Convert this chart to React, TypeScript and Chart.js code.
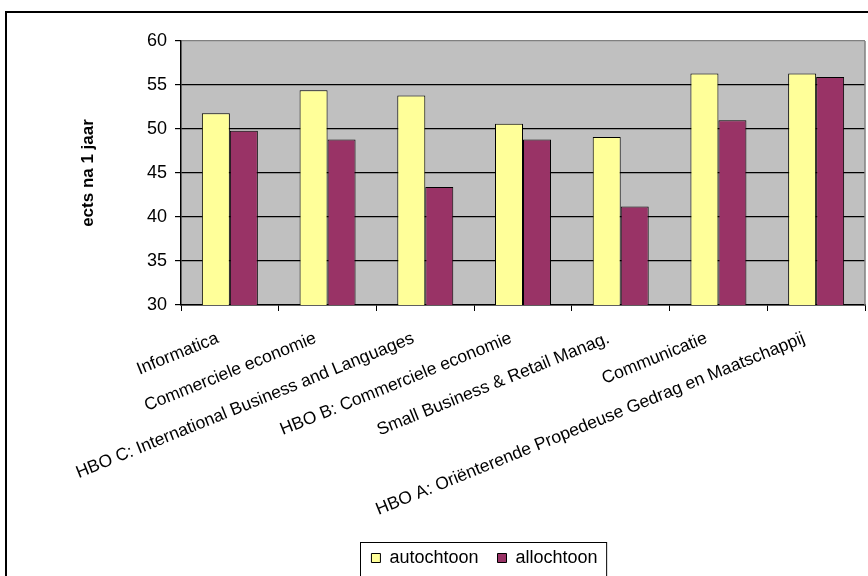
import { useEffect, useRef } from 'react';
import { Chart, registerables } from 'chart.js';

Chart.register(...registerables);

const categories = [
  'Informatica',
  'Commerciele economie',
  'HBO C: International Business and Languages',
  'HBO B: Commerciele economie',
  'Small Business & Retail Manag.',
  'Communicatie',
  'HBO A: Oriënterende Propedeuse Gedrag en Maatschappij',
];
const autochtoon = [51.8, 54.4, 53.8, 50.6, 49.1, 56.3, 56.3];
const allochtoon = [49.8, 48.8, 43.4, 48.8, 41.2, 51.0, 55.9];
const yMin = 30;
const yMax = 60;
const yStep = 5;

const FONT = "'Liberation Sans', Arial, sans-serif";

// grey plot area + grey right edge, like the old Excel look
const plotArea = {
  id: 'plotArea',
  beforeDraw(chart: any) {
    const { ctx, chartArea: a } = chart;
    ctx.save();
    ctx.fillStyle = '#C0C0C0';
    ctx.fillRect(a.left, a.top, a.right - a.left, a.bottom - a.top);
    ctx.restore();
  },
  beforeDatasetsDraw(chart: any) {
    const { ctx, chartArea: a } = chart;
    ctx.save();
    ctx.strokeStyle = '#808080';
    ctx.lineWidth = 1.5;
    ctx.beginPath();
    ctx.moveTo(a.right, a.top);
    ctx.lineTo(a.right, a.bottom);
    ctx.stroke();
    ctx.restore();
  },
};

// legend sits a bit right of centre and has a frame round it
const legendBox = {
  id: 'legendBox',
  afterLayout(chart: any) {
    chart.legend.left += 15;
    chart.legend.right += 15;
  },
  afterDraw(chart: any) {
    const hb = chart.legend?.legendHitBoxes;
    if (!hb || !hb.length) return;
    const { ctx } = chart;
    const last = hb[hb.length - 1];
    const left = hb[0].left - 11;
    const right = last.left + last.width + 9;
    const top = hb[0].top - 7;
    ctx.save();
    ctx.strokeStyle = '#000';
    ctx.lineWidth = 1;
    ctx.strokeRect(Math.round(left) + 0.5, Math.round(top) + 0.5, right - left, 60);
    ctx.restore();
  },
};

const App = () => {
  const canvasRef = useRef<HTMLCanvasElement | null>(null);

  useEffect(() => {
    if (!canvasRef.current) return;
    const chart = new Chart(canvasRef.current, {
      type: 'bar',
      data: {
        labels: categories,
        datasets: [
          {
            label: 'autochtoon',
            data: autochtoon,
            backgroundColor: '#FFFF99',
            borderColor: '#000',
            borderWidth: 1,
          },
          {
            label: 'allochtoon',
            data: allochtoon,
            backgroundColor: '#993366',
            borderColor: '#000',
            borderWidth: 1,
          },
        ],
      },
      options: {
        responsive: false,
        animation: false,
        layout: { padding: { left: 74, right: 3, top: 41, bottom: 0 } },
        datasets: {
          bar: { categoryPercentage: 0.573, barPercentage: 1 },
        },
        scales: {
          x: {
            afterFit: (scale: any) => {
              scale.height = 225;
            },
            grid: {
              offset: true,
              drawOnChartArea: false,
              drawTicks: true,
              tickLength: 6,
              color: '#000',
              lineWidth: 1,
            },
            border: { color: '#000', width: 1.5 },
            ticks: {
              autoSkip: false,
              minRotation: 22,
              maxRotation: 22,
              padding: 17,
              labelOffset: -12,
              color: '#000',
              font: { family: FONT, size: 17.5 },
            },
          },
          y: {
            min: yMin,
            max: yMax,
            afterFit: (scale: any) => {
              scale.width = 107;
            },
            grid: {
              color: (c: any) => (c.tick && c.tick.value === yMax ? '#808080' : '#000'),
              tickColor: '#000',
              tickLength: 6,
              lineWidth: 1.2,
            },
            border: { color: '#000', width: 1.5 },
            ticks: {
              stepSize: yStep,
              padding: 8,
              color: '#000',
              font: { family: FONT, size: 18 },
            },
            title: {
              display: true,
              text: 'ects na 1 jaar',
              color: '#000',
              font: { family: FONT, size: 17, weight: 'bold' },
            },
          },
        },
        plugins: {
          legend: {
            position: 'bottom',
            labels: {
              boxWidth: 9,
              boxHeight: 9,
              padding: 19,
              color: '#000',
              font: { family: FONT, size: 18 },
            },
          },
          tooltip: { enabled: false },
        },
      },
      plugins: [plotArea, legendBox],
    });
    return () => {
      chart.destroy();
    };
  }, []);

  return (
    <div
      style={{
        position: 'fixed',
        left: 0,
        top: 0,
        width: 868,
        height: 576,
        overflow: 'hidden',
        background: '#fff',
      }}
    >
      <div
        style={{
          position: 'absolute',
          left: 5,
          top: 11,
          width: 900,
          height: 600,
          border: '2px solid #000',
          boxSizing: 'border-box',
        }}
      />
      <canvas
        ref={canvasRef}
        width={868}
        height={577}
        style={{ position: 'absolute', left: 0, top: 0 }}
      />
    </div>
  );
};

export default App;
